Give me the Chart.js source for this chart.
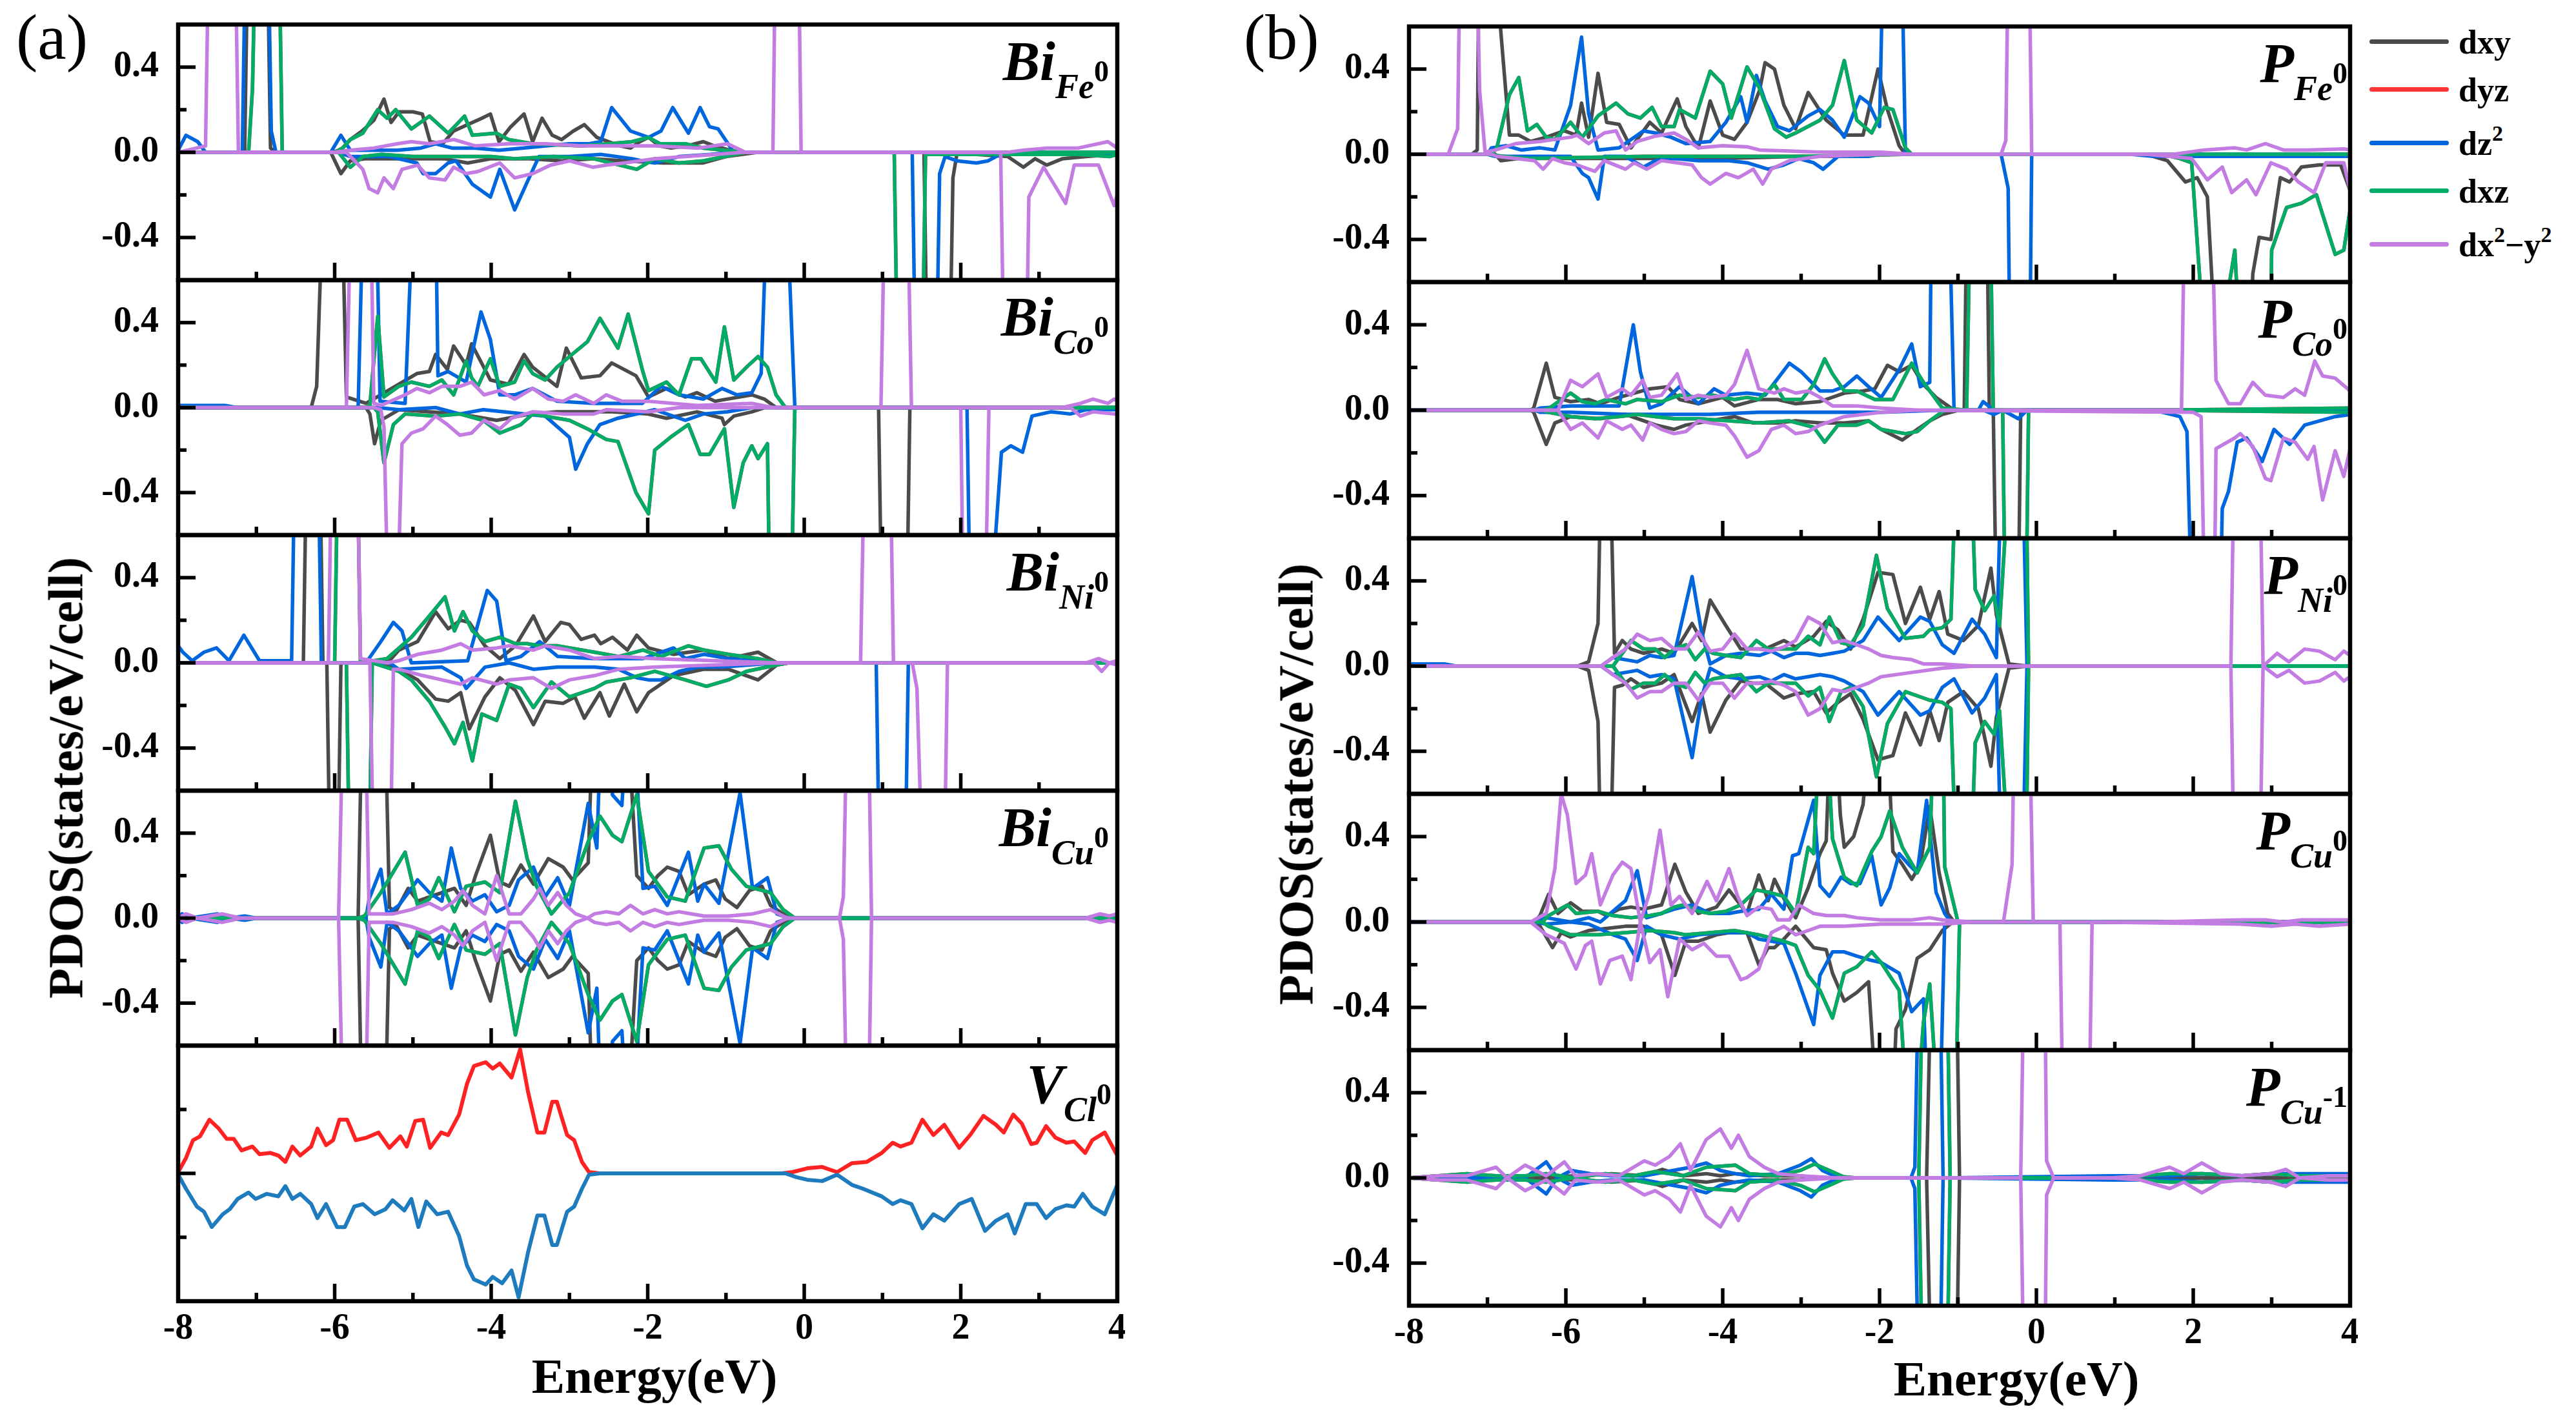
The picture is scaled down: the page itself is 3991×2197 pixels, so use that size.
<!DOCTYPE html>
<html><head><meta charset="utf-8">
<script src="https://cdn.jsdelivr.net/npm/chart.js"></script>
<style>
html,body{margin:0;padding:0;background:#fff;}
body{width:3991px;height:2197px;position:relative;overflow:hidden;font-family:'Liberation Serif','Times New Roman',serif;color:#000;}
canvas{position:absolute;}
.t{position:absolute;white-space:nowrap;color:#000;}
</style></head><body>
<script>
// ---------------- tick values / labels ----------------
const energyTicks = [-8,-6,-4,-2,0,2,4];
const energyTickLabels = ['-8','-6','-4','-2','0','2','4'];
const energyMinor = [-7,-5,-3,-1,1,3];
const pdosTicks = [-0.4,0,0.4];
const pdosTickLabels = ['-0.4','0.0','0.4'];
const pdosMinor = [-0.2,0.2];
const vclTicks = [0];
const vclMinor = [-0.5,0.5];
const orbitalNames = ['dxy','dyz','dz<span class="su">2</span>','dxz','dx<span class="su">2</span>\u2212y<span class="su">2</span>'];
const orbitalColors = ['#4b4b4b','#ff3535','#0066de','#00ad68','#c27ce2'];
const panelTitlesA = [['Bi','Fe','0'],['Bi','Co','0'],['Bi','Ni','0'],['Bi','Cu','0'],['V','Cl','0']];
const panelTitlesB = [['P','Fe','0'],['P','Co','0'],['P','Ni','0'],['P','Cu','0'],['P','Cu','-1']];

// ---------------- (a) Bi_Fe ----------------
const BiFe_dxy_up=[[-8,0],[-7.15,0],[-7.1,1.2],[-6.87,1.2],[-6.82,0.02],[-6.75,0],[-6.05,0],[-5.92,0.01],[-5.8,0.06],[-5.65,0.1],[-5.5,0.15],[-5.37,0.25],[-5.28,0.14],[-5.18,0.19],[-5.0,0.19],[-4.88,0.18],[-4.78,0.05],[-4.62,0.04],[-4.48,0.1],[-4.3,0.13],[-4.12,0.16],[-4.01,0.18],[-3.9,0.05],[-3.75,0.12],[-3.58,0.18],[-3.47,0.05],[-3.35,0.16],[-3.22,0.08],[-3.1,0.06],[-2.95,0.1],[-2.81,0.13],[-2.65,0.07],[-2.5,0.05],[-2.35,0.03],[-2.22,0.02],[-2.1,0.05],[-1.99,0.07],[-1.85,0.03],[-1.7,0.02],[-1.5,0.03],[-1.29,0.05],[-1.15,0.03],[-0.95,0.01],[-0.8,0],[4,0]];
const BiFe_dxy_dn=[[-8,0],[-6.05,0],[-5.92,-0.1],[-5.8,-0.04],[-5.6,-0.03],[-5.2,-0.03],[-4.6,-0.03],[-4.3,-0.05],[-4.0,-0.03],[-3.5,-0.03],[-3.1,-0.04],[-2.7,-0.03],[-2.3,-0.04],[-1.8,-0.05],[-1.3,-0.05],[-1.0,-0.02],[-0.6,0],[1.53,0],[1.58,-1.2],[1.85,-1.2],[1.9,-0.12],[1.95,-0.01],[2.2,-0.01],[2.6,-0.02],[2.8,-0.07],[2.95,-0.03],[3.1,-0.06],[3.3,-0.03],[3.6,-0.02],[4,-0.01]];
const BiFe_dz2_up=[[-8,0.01],[-7.9,0.08],[-7.75,0.05],[-7.65,0],[-7.18,0],[-7.13,1.2],[-6.86,1.2],[-6.81,0.1],[-6.75,0],[-6.05,0],[-5.92,0.08],[-5.8,0.01],[-5.5,0.01],[-5.2,0.01],[-4.9,0.02],[-4.71,0.04],[-4.5,0.02],[-4.2,0.02],[-3.9,0.01],[-3.6,0.02],[-3.3,0.03],[-3.0,0.04],[-2.75,0.04],[-2.6,0.05],[-2.46,0.21],[-2.22,0.1],[-1.99,0.07],[-1.83,0.1],[-1.68,0.21],[-1.48,0.09],[-1.33,0.21],[-1.21,0.12],[-1.1,0.11],[-0.9,0],[4,0]];
const BiFe_dz2_dn=[[-8,0],[-5.95,0],[-5.8,-0.02],[-5.3,-0.02],[-4.95,-0.05],[-4.87,-0.1],[-4.71,-0.1],[-4.55,-0.05],[-4.45,-0.04],[-4.24,-0.15],[-4.01,-0.21],[-3.89,-0.08],[-3.7,-0.27],[-3.54,-0.14],[-3.39,-0.02],[-3.0,-0.02],[-2.6,-0.01],[-2.2,-0.03],[-2.07,-0.04],[-1.91,-0.05],[-1.6,-0.02],[-1.2,-0.01],[-0.9,0],[1.38,0],[1.43,-1.2],[1.68,-1.2],[1.73,-0.1],[1.8,-0.02],[1.95,-0.04],[2.2,-0.05],[2.35,-0.04],[2.5,-0.01],[3.0,-0.01],[4,-0.01]];
const BiFe_dxz_up=[[-8,0],[-7.1,0],[-7.05,0.3],[-7.0,1.2],[-6.72,1.2],[-6.67,0],[-6.0,0],[-5.9,0.02],[-5.8,0.06],[-5.64,0.09],[-5.45,0.2],[-5.33,0.16],[-5.22,0.2],[-5.02,0.11],[-4.79,0.17],[-4.55,0.09],[-4.34,0.17],[-4.24,0.08],[-3.93,0.09],[-3.78,0.06],[-3.47,0.04],[-2.85,0.03],[-2.5,0.04],[-2.2,0.05],[-1.99,0.07],[-1.84,0.04],[-1.52,0.04],[-1.29,0.02],[-0.75,0],[4,0]];
const BiFe_dxz_dn=[[-8,0],[-5.95,0],[-5.8,-0.07],[-5.64,-0.02],[-5.4,-0.01],[-5.0,-0.02],[-4.5,-0.02],[-4.0,-0.02],[-3.7,-0.03],[-3.2,-0.02],[-2.69,-0.03],[-2.14,-0.08],[-1.91,-0.03],[-1.6,-0.05],[-1.29,-0.04],[-0.75,0],[1.15,0],[1.2,-1.2],[1.5,-1.2],[1.55,-0.01],[2.5,-0.01],[3.5,-0.01],[3.9,-0.02],[4,-0.01]];
const BiFe_dx2y2_up=[[-8,0],[-7.65,0.03],[-7.6,1.2],[-7.28,1.2],[-7.23,0],[-6.0,0],[-5.8,0.01],[-5.5,0.02],[-5.2,0.04],[-5.02,0.05],[-4.79,0.04],[-4.48,0.06],[-4.2,0.03],[-3.78,0.04],[-3.3,0.04],[-2.85,0.03],[-2.5,0.03],[-1.9,0.03],[-1.35,0.02],[-0.98,0.04],[-0.75,0],[-0.4,0],[-0.36,1.2],[-0.08,1.2],[-0.04,0],[2.6,0],[2.8,0.01],[3.1,0.02],[3.5,0.02],[3.88,0.05],[4,0.02]];
const BiFe_dx2y2_dn=[[-8,0],[-5.85,0],[-5.64,-0.08],[-5.56,-0.17],[-5.45,-0.19],[-5.37,-0.12],[-5.25,-0.17],[-5.14,-0.08],[-4.94,-0.06],[-4.79,-0.12],[-4.59,-0.13],[-4.48,-0.07],[-4.32,-0.1],[-4.17,-0.09],[-3.89,-0.05],[-3.7,-0.12],[-3.47,-0.1],[-3.24,-0.06],[-3.0,-0.04],[-2.7,-0.07],[-2.53,-0.06],[-2.3,-0.05],[-1.91,-0.03],[-1.52,-0.02],[-1.13,-0.01],[-0.8,0],[2.51,0],[2.56,-1.2],[2.83,-1.2],[2.87,-0.21],[3.06,-0.07],[3.34,-0.24],[3.45,-0.06],[3.76,-0.06],[3.96,-0.25],[4,-0.2]];

// ---------------- (a) Bi_Co ----------------
const BiCo_dxy_up=[[-8,0],[-6.3,0],[-6.23,0.1],[-6.13,1.2],[-5.92,1.2],[-5.85,0.05],[-5.6,0.02],[-5.41,0.06],[-4.95,0.16],[-4.79,0.17],[-4.71,0.25],[-4.56,0.18],[-4.48,0.29],[-4.32,0.2],[-4.25,0.3],[-4.01,0.13],[-3.78,0.11],[-3.58,0.25],[-3.47,0.19],[-3.16,0.1],[-3.04,0.28],[-2.85,0.14],[-2.61,0.15],[-2.46,0.21],[-2.15,0.15],[-1.99,0.05],[-1.76,0.09],[-1.52,0.05],[-1.37,0.07],[-1.14,0.03],[-0.67,0.06],[-0.51,0.04],[-0.36,0],[4,0]];
const BiCo_dxy_dn=[[-8,0],[-5.6,0],[-5.55,-0.03],[-5.49,-0.17],[-5.41,-0.06],[-5.18,-0.01],[-4.8,-0.02],[-4.4,-0.03],[-3.93,-0.06],[-3.5,-0.03],[-3.16,-0.02],[-2.46,-0.02],[-2.0,-0.03],[-1.76,-0.05],[-1.37,-0.02],[-1.05,-0.05],[-1.02,-0.08],[-0.9,-0.04],[-0.67,-0.02],[-0.5,0],[0.95,0],[1.0,-1.2],[1.3,-1.2],[1.35,0],[4,0]];
const BiCo_dz2_up=[[-8,0.01],[-7.6,0.01],[-7.4,0.01],[-7.25,0],[-5.7,0],[-5.62,1.2],[-5.48,1.2],[-5.42,0.03],[-5.1,0.02],[-4.97,1.2],[-4.72,1.2],[-4.68,0.15],[-4.55,0.17],[-4.32,0.12],[-4.13,0.45],[-4.01,0.32],[-3.89,0.06],[-3.7,0.06],[-3.47,0.09],[-3.16,0.03],[-2.69,0.02],[-2.07,0.02],[-1.83,0.1],[-1.6,0.06],[-1.44,0.05],[-1.29,0.04],[-1.05,0.09],[-0.86,0.06],[-0.67,0.07],[-0.55,0.16],[-0.45,1.2],[-0.25,1.2],[-0.12,0],[4,0]];
const BiCo_dz2_dn=[[-8,0],[-5.45,0],[-5.18,-0.01],[-4.71,0],[-4.4,-0.03],[-4.1,-0.01],[-3.31,-0.04],[-3.0,-0.14],[-2.92,-0.29],[-2.77,-0.17],[-2.61,-0.08],[-2.38,-0.05],[-1.91,-0.01],[-1.52,-0.06],[-1.29,-0.03],[-0.98,-0.02],[-0.67,0],[2.08,0],[2.13,-1.2],[2.33,-1.2],[2.52,-0.21],[2.64,-0.18],[2.79,-0.21],[2.91,-0.04],[3.15,-0.02],[3.4,-0.03],[3.6,-0.01],[4,-0.01]];
const BiCo_dxz_up=[[-8,0],[-5.6,0],[-5.55,0.01],[-5.45,0.43],[-5.37,0.05],[-5.18,0.1],[-5.02,0.12],[-4.79,0.1],[-4.63,0.13],[-4.48,0.06],[-4.32,0.22],[-4.25,0.14],[-4.17,0.1],[-4.01,0.23],[-3.89,0.1],[-3.7,0.12],[-3.58,0.22],[-3.47,0.16],[-3.31,0.13],[-3.16,0.19],[-3.0,0.24],[-2.77,0.31],[-2.61,0.42],[-2.38,0.28],[-2.25,0.44],[-2.07,0.18],[-1.99,0.08],[-1.76,0.12],[-1.6,0.06],[-1.44,0.23],[-1.32,0.23],[-1.13,0.12],[-1.02,0.38],[-0.9,0.13],[-0.71,0.2],[-0.59,0.24],[-0.47,0.19],[-0.36,0.06],[-0.24,0],[4,0]];
const BiCo_dxz_dn=[[-8,0],[-5.5,0],[-5.45,-0.02],[-5.37,-0.26],[-5.25,-0.08],[-5.1,-0.03],[-4.71,-0.04],[-4.4,-0.03],[-4.1,-0.06],[-3.89,-0.12],[-3.62,-0.08],[-3.47,-0.03],[-3.0,-0.06],[-2.77,-0.1],[-2.53,-0.15],[-2.38,-0.16],[-2.15,-0.4],[-1.99,-0.5],[-1.91,-0.2],[-1.71,-0.14],[-1.48,-0.08],[-1.33,-0.22],[-1.21,-0.22],[-1.02,-0.1],[-0.9,-0.47],[-0.78,-0.26],[-0.67,-0.18],[-0.59,-0.24],[-0.47,-0.17],[-0.43,-1.2],[-0.18,-1.2],[-0.12,0],[4,0]];
const BiCo_dx2y2_up=[[-8,0],[-5.85,0],[-5.78,1.2],[-5.55,1.2],[-5.5,0.02],[-5.41,0.01],[-5.1,0.06],[-4.95,0.09],[-4.79,0.07],[-4.63,0.1],[-4.4,0.1],[-4.25,0.12],[-4.09,0.06],[-3.89,0.08],[-3.7,0.04],[-3.47,0.09],[-3.27,0.04],[-3.08,0.03],[-2.92,0.06],[-2.69,0.02],[-2.53,0.06],[-2.33,0.03],[-2.0,0.03],[-1.68,0.02],[-1.37,0.01],[-0.67,0.02],[-0.4,0],[0.98,0],[1.04,1.2],[1.31,1.2],[1.37,0],[3.3,0],[3.53,0.02],[3.69,0.04],[3.88,0.02],[3.96,0.04],[4,0.03]];
const BiCo_dx2y2_dn=[[-8,0],[-5.5,0],[-5.41,-0.01],[-5.37,-0.09],[-5.3,-1.2],[-5.22,-1.2],[-5.14,-0.17],[-5.02,-0.12],[-4.87,-0.1],[-4.71,-0.04],[-4.56,-0.08],[-4.4,-0.13],[-4.25,-0.12],[-4.09,-0.06],[-3.89,-0.1],[-3.74,-0.05],[-3.47,-0.02],[-3.08,-0.03],[-2.69,-0.03],[-2.53,-0.01],[-1.99,-0.02],[-1.6,0],[2.0,0],[2.04,-1.2],[2.3,-1.2],[2.36,0],[3.4,0],[3.53,-0.04],[3.69,-0.02],[3.96,-0.03],[4,-0.03]];

// ---------------- (a) Bi_Ni ----------------
const BiNi_dxy_up=[[-8,0],[-6.4,0],[-6.35,1.2],[-6.2,1.2],[-6.15,0],[-5.5,0],[-5.3,0.01],[-5.18,0.06],[-4.94,0.1],[-4.71,0.24],[-4.55,0.16],[-4.39,0.2],[-4.28,0.19],[-4.08,0.08],[-3.89,0.02],[-3.69,0.08],[-3.46,0.22],[-3.31,0.1],[-3.11,0.19],[-3.0,0.18],[-2.85,0.11],[-2.68,0.13],[-2.6,0.09],[-2.45,0.12],[-2.26,0.06],[-2.14,0.13],[-1.99,0.07],[-1.67,0.04],[-1.28,0.06],[-0.97,0.02],[-0.59,0.05],[-0.35,0],[4,0]];
const BiNi_dxy_dn=[[-8,0],[-6.1,0],[-6.05,-1.2],[-5.97,-1.2],[-5.92,0],[-5.5,0],[-5.18,-0.03],[-4.94,-0.08],[-4.71,-0.17],[-4.55,-0.18],[-4.39,-0.14],[-4.28,-0.31],[-4.08,-0.16],[-3.89,-0.07],[-3.69,-0.13],[-3.46,-0.29],[-3.31,-0.18],[-3.08,-0.19],[-2.93,-0.16],[-2.81,-0.26],[-2.61,-0.14],[-2.49,-0.25],[-2.3,-0.1],[-2.14,-0.23],[-1.99,-0.14],[-1.67,-0.06],[-1.28,-0.03],[-0.97,-0.03],[-0.59,-0.08],[-0.35,-0.01],[-0.2,0],[4,0]];
const BiNi_dz2_up=[[-8,0.08],[-7.94,0.05],[-7.82,0.01],[-7.67,0.05],[-7.51,0.07],[-7.35,0.01],[-7.16,0.13],[-6.96,0.01],[-6.55,0.01],[-6.5,1.2],[-6.22,1.2],[-6.17,0],[-5.6,0],[-5.41,0.1],[-5.25,0.19],[-5.14,0.15],[-5.02,0],[-4.3,0.01],[-4.05,0.34],[-3.93,0.29],[-3.81,0.01],[-3.62,0.03],[-3.38,0.1],[-3.15,0.03],[-2.68,0.02],[-2.06,0.02],[-1.67,0.07],[-1.52,0.02],[-1.28,0.04],[-0.97,0.02],[-0.35,0],[4,0]];
const BiNi_dz2_dn=[[-8,0],[-5.3,0],[-5.18,-0.03],[-4.63,-0.02],[-4.39,-0.07],[-4.32,-0.12],[-4.08,-0.02],[-3.77,0],[-3.46,-0.03],[-3.15,-0.02],[-2.68,-0.02],[-2.37,-0.03],[-2.14,-0.07],[-1.99,-0.08],[-1.83,-0.08],[-1.6,-0.04],[-1.36,-0.02],[-1.05,-0.02],[-0.35,0],[0.92,0],[0.97,-1.2],[1.28,-1.2],[1.33,0],[4,0]];
const BiNi_dxz_up=[[-8,0],[-6.0,0],[-5.95,1.2],[-5.72,1.2],[-5.67,0],[-5.33,0.02],[-5.02,0.12],[-4.79,0.22],[-4.59,0.31],[-4.47,0.15],[-4.36,0.24],[-4.24,0.15],[-4.08,0.1],[-3.89,0.12],[-3.69,0.09],[-3.54,0.09],[-3.38,0.08],[-3.15,0.08],[-2.68,0.05],[-2.37,0.03],[-2.06,0.06],[-1.83,0.03],[-1.48,0.08],[-1.28,0.06],[-0.97,0.04],[-0.59,0.02],[-0.35,0],[4,0]];
const BiNi_dxz_dn=[[-8,0],[-5.85,0],[-5.8,-1.2],[-5.57,-1.2],[-5.52,0],[-5.18,-0.04],[-5.02,-0.08],[-4.79,-0.18],[-4.59,-0.3],[-4.47,-0.38],[-4.36,-0.28],[-4.24,-0.46],[-4.12,-0.24],[-3.93,-0.27],[-3.77,-0.1],[-3.62,-0.12],[-3.46,-0.21],[-3.23,-0.09],[-3.0,-0.16],[-2.68,-0.12],[-2.53,-0.09],[-2.22,-0.07],[-1.91,-0.04],[-1.52,-0.08],[-1.25,-0.11],[-0.97,-0.08],[-0.74,-0.04],[-0.35,-0.01],[-0.2,0],[4,0]];
const BiNi_dx2y2_up=[[-8,0],[-6.08,0],[-6.03,1.2],[-5.72,1.2],[-5.67,0.02],[-5.33,0],[-5.18,0.01],[-4.94,0.04],[-4.63,0.06],[-4.39,0.09],[-4.24,0.06],[-3.93,0.07],[-3.77,0.08],[-3.46,0.06],[-3.31,0.08],[-3.0,0.06],[-2.68,0.02],[-2.37,0.03],[-1.91,0.02],[-1.13,0.01],[-0.35,0],[0.72,0],[0.78,1.2],[1.09,1.2],[1.14,0],[3.6,0],[3.76,0.02],[3.9,0],[4,0.01]];
const BiNi_dx2y2_dn=[[-8,0],[-5.55,0],[-5.49,-1.2],[-5.3,-1.2],[-5.25,-0.03],[-5.18,-0.03],[-4.87,-0.06],[-4.63,-0.08],[-4.39,-0.1],[-4.24,-0.07],[-3.93,-0.1],[-3.77,-0.08],[-3.46,-0.07],[-3.23,-0.12],[-3.0,-0.08],[-2.68,-0.06],[-2.37,-0.03],[-1.91,-0.02],[-1.13,-0.01],[-0.35,0],[1.38,0],[1.44,-0.12],[1.53,-1.2],[1.78,-1.2],[1.83,0],[3.7,0],[3.8,-0.04],[3.9,0],[4,-0.01]];

// ---------------- (a) Bi_Cu ----------------
const BiCu_dxy_up=[[-8,0],[-5.7,0],[-5.64,1.2],[-5.37,1.2],[-5.3,0.05],[-5.22,0.03],[-5.06,0.14],[-4.94,0.08],[-4.71,0.11],[-4.47,0.14],[-4.32,0.06],[-4.2,0.2],[-4.01,0.39],[-3.89,0.17],[-3.77,0.15],[-3.62,0.25],[-3.46,0.16],[-3.27,0.28],[-3.08,0.24],[-2.96,0.18],[-2.76,0.26],[-2.68,1.2],[-2.3,1.2],[-2.14,0.2],[-1.99,0.14],[-1.87,0.2],[-1.75,0.24],[-1.6,0.22],[-1.48,0.11],[-1.28,0.16],[-1.13,0.18],[-1.01,0.09],[-0.86,0.05],[-0.7,0.13],[-0.54,0.15],[-0.43,0.06],[-0.27,0.02],[-0.12,0],[4,0]];
const BiCu_dxy_dn=[[-8,0],[-5.7,0],[-5.64,-1.2],[-5.37,-1.2],[-5.3,-0.05],[-5.22,-0.03],[-5.06,-0.14],[-4.94,-0.08],[-4.71,-0.11],[-4.47,-0.14],[-4.32,-0.06],[-4.2,-0.2],[-4.01,-0.39],[-3.89,-0.17],[-3.77,-0.15],[-3.62,-0.25],[-3.46,-0.16],[-3.27,-0.28],[-3.08,-0.24],[-2.96,-0.18],[-2.76,-0.26],[-2.68,-1.2],[-2.3,-1.2],[-2.14,-0.2],[-1.99,-0.14],[-1.87,-0.2],[-1.75,-0.24],[-1.6,-0.22],[-1.48,-0.11],[-1.28,-0.16],[-1.13,-0.18],[-1.01,-0.09],[-0.86,-0.05],[-0.7,-0.13],[-0.54,-0.15],[-0.43,-0.06],[-0.27,-0.02],[-0.12,0],[4,0]];
const BiCu_dz2_up=[[-8,0],[-7.95,0.02],[-7.85,0],[-7.5,0.02],[-7.35,0],[-7.15,0.01],[-7.0,0],[-5.6,0],[-5.56,0.09],[-5.41,0.23],[-5.33,0.02],[-5.18,0.06],[-4.94,0.18],[-4.79,0.12],[-4.63,0.08],[-4.51,0.33],[-4.39,0.14],[-4.24,0.08],[-4.08,0.11],[-3.93,0.03],[-3.77,0.06],[-3.65,0.18],[-3.46,0.24],[-3.31,0.1],[-3.15,0.19],[-3.0,0.06],[-2.76,0.54],[-2.65,0.33],[-2.57,1.2],[-2.45,0.58],[-2.33,0.53],[-2.22,1.2],[-2.06,0.14],[-1.91,0.15],[-1.75,0.06],[-1.48,0.31],[-1.36,0.08],[-1.28,0.16],[-1.09,0.07],[-0.82,0.59],[-0.66,0.14],[-0.47,0.19],[-0.35,0.02],[-0.2,0],[4,0]];
const BiCu_dz2_dn=[[-8,0],[-7.95,-0.02],[-7.85,0],[-7.5,-0.02],[-7.35,0],[-7.15,-0.01],[-7.0,0],[-5.6,0],[-5.56,-0.09],[-5.41,-0.23],[-5.33,-0.02],[-5.18,-0.06],[-4.94,-0.18],[-4.79,-0.12],[-4.63,-0.08],[-4.51,-0.33],[-4.39,-0.14],[-4.24,-0.08],[-4.08,-0.11],[-3.93,-0.03],[-3.77,-0.06],[-3.65,-0.18],[-3.46,-0.24],[-3.31,-0.1],[-3.15,-0.19],[-3.0,-0.06],[-2.76,-0.54],[-2.65,-0.33],[-2.57,-1.2],[-2.45,-0.58],[-2.33,-0.53],[-2.22,-1.2],[-2.06,-0.14],[-1.91,-0.15],[-1.75,-0.06],[-1.48,-0.31],[-1.36,-0.08],[-1.28,-0.16],[-1.09,-0.07],[-0.82,-0.59],[-0.66,-0.14],[-0.47,-0.19],[-0.35,-0.02],[-0.2,0],[4,0]];
const BiCu_dxz_up=[[-8,0],[-5.7,0],[-5.62,0.01],[-5.41,0.12],[-5.1,0.31],[-4.94,0.06],[-4.79,0.09],[-4.67,0.19],[-4.47,0.03],[-4.32,0.15],[-4.08,0.17],[-3.89,0.12],[-3.69,0.55],[-3.54,0.28],[-3.42,0.15],[-3.23,0.02],[-3.0,0.12],[-2.76,0.36],[-2.61,0.48],[-2.45,0.39],[-2.33,0.36],[-2.14,0.58],[-1.99,0.22],[-1.75,0.1],[-1.52,0.08],[-1.28,0.33],[-1.09,0.34],[-0.93,0.23],[-0.74,0.15],[-0.43,0.12],[-0.27,0.04],[-0.12,0],[4,0]];
const BiCu_dxz_dn=[[-8,0],[-5.7,0],[-5.62,-0.01],[-5.41,-0.12],[-5.1,-0.31],[-4.94,-0.06],[-4.79,-0.09],[-4.67,-0.19],[-4.47,-0.03],[-4.32,-0.15],[-4.08,-0.17],[-3.89,-0.12],[-3.69,-0.55],[-3.54,-0.28],[-3.42,-0.15],[-3.23,-0.02],[-3.0,-0.12],[-2.76,-0.36],[-2.61,-0.48],[-2.45,-0.39],[-2.33,-0.36],[-2.14,-0.58],[-1.99,-0.22],[-1.75,-0.1],[-1.52,-0.08],[-1.28,-0.33],[-1.09,-0.34],[-0.93,-0.23],[-0.74,-0.15],[-0.43,-0.12],[-0.27,-0.04],[-0.12,0],[4,0]];
const BiCu_dx2y2_up=[[-8,0],[-7.9,0.02],[-7.75,0],[-7.44,0.02],[-7.2,0],[-5.95,0],[-5.88,1.2],[-5.62,1.2],[-5.56,0.02],[-5.25,0.02],[-5.02,0.04],[-4.79,0.07],[-4.63,0.04],[-4.47,0.08],[-4.36,0.13],[-4.24,0.06],[-4.08,0.02],[-3.93,0.2],[-3.77,0.02],[-3.62,0.02],[-3.46,0.09],[-3.38,0.14],[-3.27,0.06],[-3.15,0.12],[-3.04,0.06],[-2.92,0.02],[-2.77,0],[-2.68,0.02],[-2.53,0.03],[-2.37,0.02],[-2.22,0.06],[-2.06,0.02],[-1.91,0.04],[-1.75,0.02],[-1.6,0.03],[-1.44,0.02],[-1.28,0.01],[-0.97,0.01],[-0.66,0.02],[-0.43,0.04],[-0.27,0.01],[-0.2,0],[0.45,0],[0.5,0.1],[0.56,1.2],[0.81,1.2],[0.86,0],[3.6,0],[3.78,0.02],[3.9,0.01],[4,0.02]];
const BiCu_dx2y2_dn=[[-8,0],[-7.9,-0.02],[-7.75,0],[-7.44,-0.02],[-7.2,0],[-5.95,0],[-5.88,-1.2],[-5.62,-1.2],[-5.56,-0.02],[-5.25,-0.02],[-5.02,-0.04],[-4.79,-0.07],[-4.63,-0.04],[-4.47,-0.08],[-4.36,-0.13],[-4.24,-0.06],[-4.08,-0.02],[-3.93,-0.2],[-3.77,-0.02],[-3.62,-0.02],[-3.46,-0.09],[-3.38,-0.14],[-3.27,-0.06],[-3.15,-0.12],[-3.04,-0.06],[-2.92,-0.02],[-2.77,0],[-2.68,-0.02],[-2.53,-0.03],[-2.37,-0.02],[-2.22,-0.06],[-2.06,-0.02],[-1.91,-0.04],[-1.75,-0.02],[-1.6,-0.03],[-1.44,-0.02],[-1.28,-0.01],[-0.97,-0.01],[-0.66,-0.02],[-0.43,-0.04],[-0.27,-0.01],[-0.2,0],[0.45,0],[0.5,-0.1],[0.56,-1.2],[0.81,-1.2],[0.86,0],[3.6,0],[3.78,-0.02],[3.9,-0.01],[4,-0.02]];

// ---------------- (a) V_Cl ----------------
const VCl_up=[[-8,0.01],[-7.9,0.12],[-7.81,0.26],[-7.72,0.29],[-7.6,0.42],[-7.48,0.35],[-7.38,0.27],[-7.29,0.27],[-7.19,0.18],[-7.05,0.21],[-6.96,0.15],[-6.82,0.16],[-6.72,0.14],[-6.63,0.09],[-6.54,0.21],[-6.44,0.14],[-6.3,0.21],[-6.22,0.35],[-6.11,0.22],[-6.02,0.26],[-5.94,0.42],[-5.84,0.42],[-5.73,0.26],[-5.59,0.28],[-5.44,0.32],[-5.3,0.2],[-5.16,0.29],[-5.08,0.21],[-4.97,0.41],[-4.87,0.42],[-4.78,0.2],[-4.64,0.32],[-4.55,0.3],[-4.41,0.46],[-4.31,0.7],[-4.22,0.84],[-4.07,0.87],[-3.98,0.82],[-3.89,0.86],[-3.74,0.75],[-3.63,0.97],[-3.53,0.64],[-3.41,0.32],[-3.32,0.32],[-3.22,0.56],[-3.16,0.56],[-3.03,0.3],[-2.94,0.26],[-2.84,0.09],[-2.75,0.01],[-2.61,0],[-0.29,0],[-0.15,0.01],[0.04,0.04],[0.23,0.05],[0.42,0.01],[0.61,0.08],[0.8,0.09],[0.99,0.16],[1.13,0.24],[1.23,0.21],[1.37,0.24],[1.51,0.42],[1.65,0.3],[1.79,0.38],[1.98,0.2],[2.12,0.3],[2.29,0.45],[2.45,0.38],[2.55,0.32],[2.67,0.46],[2.78,0.39],[2.9,0.23],[2.97,0.24],[3.09,0.37],[3.21,0.28],[3.35,0.24],[3.45,0.25],[3.59,0.16],[3.68,0.26],[3.84,0.32],[4,0.14]];
const VCl_dn=[[-8,-0.01],[-7.9,-0.12],[-7.76,-0.26],[-7.67,-0.3],[-7.57,-0.42],[-7.43,-0.32],[-7.34,-0.28],[-7.24,-0.2],[-7.1,-0.15],[-7.01,-0.2],[-6.87,-0.16],[-6.72,-0.18],[-6.63,-0.1],[-6.54,-0.2],[-6.44,-0.16],[-6.3,-0.24],[-6.22,-0.35],[-6.11,-0.24],[-5.97,-0.42],[-5.87,-0.42],[-5.75,-0.26],[-5.64,-0.24],[-5.49,-0.32],[-5.35,-0.28],[-5.26,-0.21],[-5.11,-0.29],[-5.02,-0.2],[-4.93,-0.42],[-4.83,-0.22],[-4.69,-0.32],[-4.55,-0.3],[-4.41,-0.49],[-4.31,-0.72],[-4.22,-0.83],[-4.07,-0.87],[-3.98,-0.81],[-3.86,-0.86],[-3.74,-0.76],[-3.65,-0.97],[-3.53,-0.62],[-3.41,-0.33],[-3.32,-0.33],[-3.22,-0.56],[-3.16,-0.56],[-3.03,-0.3],[-2.94,-0.26],[-2.84,-0.12],[-2.75,-0.01],[-2.61,0],[-0.24,0],[-0.1,-0.03],[0.04,-0.05],[0.23,-0.06],[0.42,-0.01],[0.61,-0.09],[0.75,-0.12],[0.99,-0.18],[1.13,-0.24],[1.23,-0.21],[1.37,-0.24],[1.51,-0.43],[1.65,-0.32],[1.79,-0.37],[1.98,-0.24],[2.14,-0.2],[2.31,-0.45],[2.45,-0.37],[2.6,-0.32],[2.69,-0.47],[2.83,-0.24],[2.97,-0.24],[3.09,-0.35],[3.21,-0.28],[3.35,-0.25],[3.45,-0.26],[3.56,-0.16],[3.68,-0.26],[3.84,-0.32],[4,-0.09]];

// ---------------- (b) P_Fe ----------------
const PFe_dxy_up=[[-8,0],[-7.2,0],[-7.13,0.02],[-7.1,1.2],[-6.97,1.2],[-6.72,0.09],[-6.6,0.09],[-6.45,0.06],[-6.25,0.08],[-6.02,0.11],[-5.87,0.09],[-5.8,0.24],[-5.71,0.08],[-5.59,0.38],[-5.48,0.15],[-5.32,0.14],[-5.17,0.03],[-4.93,0.15],[-4.78,0.1],[-4.58,0.26],[-4.47,0.13],[-4.31,0.03],[-4.16,0.25],[-4.0,0.09],[-3.85,0.07],[-3.69,0.15],[-3.53,0.3],[-3.46,0.43],[-3.34,0.4],[-3.22,0.23],[-3.07,0.12],[-2.91,0.29],[-2.68,0.16],[-2.45,0.09],[-2.21,0.09],[-2.02,0.4],[-1.9,0.21],[-1.75,0.04],[-1.67,0],[4,0]];
const PFe_dxy_dn=[[-8,0],[-6.9,0],[-6.83,-0.03],[-6.6,-0.02],[-6.0,-0.02],[-5.0,-0.02],[-4.0,-0.02],[-3.0,-0.01],[-2.5,-0.01],[-2.0,0],[1.4,0],[1.67,-0.03],[1.9,-0.13],[2.05,-0.11],[2.18,-0.2],[2.33,-1.2],[2.68,-1.2],[2.76,-0.56],[2.84,-0.39],[2.99,-0.4],[3.11,-0.11],[3.23,-0.13],[3.38,-0.06],[3.61,-0.05],[3.88,-0.05],[4,-0.17]];
const PFe_dz2_up=[[-8,0],[-7.0,0],[-6.95,0.03],[-6.76,0.04],[-6.57,0.02],[-6.33,0.03],[-6.14,0.02],[-5.94,0.23],[-5.8,0.55],[-5.71,0.19],[-5.59,0.02],[-5.32,0.03],[-5.01,0.11],[-4.86,0.1],[-4.66,0.08],[-4.47,0.05],[-4.16,0.06],[-3.96,0.15],[-3.77,0.27],[-3.69,0.15],[-3.57,0.37],[-3.46,0.25],[-3.3,0.13],[-3.15,0.11],[-2.91,0.18],[-2.76,0.21],[-2.6,0.16],[-2.45,0.08],[-2.25,0.27],[-2.14,0.24],[-2.0,0.13],[-1.94,1.2],[-1.73,1.2],[-1.67,0],[4,0]];
const PFe_dz2_dn=[[-8,0],[-7.0,0],[-6.9,-0.01],[-6.2,-0.01],[-5.94,-0.01],[-5.79,-0.09],[-5.71,-0.11],[-5.59,-0.21],[-5.51,-0.01],[-5.24,-0.01],[-5.01,-0.06],[-4.86,-0.03],[-4.62,-0.02],[-4.31,-0.03],[-3.92,-0.03],[-3.69,-0.04],[-3.42,-0.07],[-3.22,-0.05],[-3.03,-0.02],[-2.84,-0.04],[-2.72,-0.07],[-2.53,-0.01],[-2.14,-0.01],[-1.98,0],[-0.45,0],[-0.36,-0.16],[-0.33,-1.2],[-0.09,-1.2],[-0.06,0],[1.2,0],[1.5,-0.01],[4,-0.01]];
const PFe_dxz_up=[[-8,0],[-6.95,0],[-6.88,0.03],[-6.72,0.28],[-6.6,0.36],[-6.49,0.11],[-6.37,0.14],[-6.25,0.08],[-6.14,0.07],[-5.94,0.15],[-5.79,0.08],[-5.59,0.18],[-5.36,0.24],[-5.21,0.19],[-5.05,0.17],[-4.9,0.22],[-4.78,0.13],[-4.62,0.13],[-4.55,0.21],[-4.35,0.17],[-4.16,0.39],[-4.0,0.33],[-3.89,0.17],[-3.69,0.41],[-3.53,0.31],[-3.34,0.12],[-3.19,0.08],[-3.07,0.1],[-2.76,0.16],[-2.6,0.23],[-2.45,0.44],[-2.29,0.16],[-2.1,0.1],[-1.94,0.22],[-1.83,0.21],[-1.67,0.03],[-1.59,0],[4,0]];
const PFe_dxz_dn=[[-8,0],[-7.0,0],[-6.8,-0.01],[-6.49,-0.02],[-5.0,-0.01],[-4.0,-0.01],[-3.0,-0.01],[-1.59,0],[1.6,0],[1.83,-0.02],[1.98,-0.04],[2.2,-1.2],[2.53,-0.45],[2.64,-1.2],[2.97,-1.2],[3.0,-0.45],[3.19,-0.25],[3.38,-0.23],[3.57,-0.19],[3.81,-0.47],[3.92,-0.45],[4,-0.26]];
const PFe_dx2y2_up=[[-8,0],[-7.5,0],[-7.38,0.12],[-7.34,1.2],[-7.15,1.2],[-7.1,0.3],[-7.03,0.01],[-6.9,0.02],[-6.64,0.05],[-6.33,0.06],[-6.14,0.07],[-5.94,0.08],[-5.86,0.09],[-5.71,0.05],[-5.51,0.1],[-5.36,0.11],[-5.24,0.02],[-5.09,0.06],[-4.86,0.085],[-4.62,0.1],[-4.47,0.07],[-4.31,0.03],[-4.0,0.04],[-3.69,0.035],[-3.53,0.02],[-3.15,0.015],[-2.76,0.01],[-1.98,0.01],[-1.6,0],[-0.45,0],[-0.39,0.065],[-0.35,1.2],[-0.1,1.2],[-0.06,0],[1.75,0],[2.14,0.02],[2.53,0.03],[2.68,0.02],[2.92,0.05],[3.15,0.02],[3.46,0.02],[3.92,0.025],[4,0.02]];
const PFe_dx2y2_dn=[[-8,0],[-6.95,0],[-6.88,-0.01],[-6.64,-0.02],[-6.4,-0.03],[-6.29,-0.07],[-6.17,-0.02],[-6.02,-0.04],[-5.86,-0.05],[-5.63,-0.08],[-5.51,-0.03],[-5.24,-0.07],[-5.13,-0.04],[-4.97,-0.07],[-4.78,-0.03],[-4.58,-0.04],[-4.39,-0.05],[-4.27,-0.11],[-4.16,-0.14],[-3.96,-0.09],[-3.8,-0.11],[-3.61,-0.07],[-3.49,-0.14],[-3.38,-0.07],[-3.15,-0.03],[-2.76,-0.01],[-1.98,0],[1.4,0],[1.98,-0.02],[2.18,-0.12],[2.37,-0.06],[2.49,-0.18],[2.68,-0.12],[2.8,-0.19],[2.99,-0.04],[3.19,-0.07],[3.34,-0.13],[3.54,-0.18],[3.69,-0.04],[3.92,-0.04],[4,-0.17]];

// ---------------- (b) P_Co ----------------
const PCo_dxy_up=[[-8,0],[-6.45,0],[-6.41,0.01],[-6.25,0.22],[-6.14,0.06],[-5.94,0.04],[-5.71,0.05],[-5.56,0.03],[-5.32,0.06],[-4.93,0.1],[-4.7,0.11],[-4.55,0.05],[-4.31,0.03],[-4.0,0.06],[-3.85,0.02],[-3.54,0.05],[-3.3,0.05],[-3.07,0.03],[-2.76,0.04],[-2.45,0.08],[-2.21,0.09],[-2.06,0.1],[-1.9,0.21],[-1.75,0.18],[-1.59,0.21],[-1.44,0.12],[-1.28,0.06],[-1.05,0],[-0.92,0],[-0.88,1.2],[-0.64,1.2],[-0.6,0],[4,0]];
const PCo_dxy_dn=[[-8,0],[-6.45,0],[-6.41,-0.01],[-6.25,-0.16],[-6.14,-0.06],[-5.94,-0.03],[-5.56,-0.04],[-5.24,-0.02],[-4.85,-0.07],[-4.62,-0.09],[-4.47,-0.07],[-4.16,-0.05],[-3.85,-0.03],[-3.61,-0.06],[-3.3,-0.06],[-3.07,-0.05],[-2.76,-0.06],[-2.45,-0.06],[-2.14,-0.05],[-1.98,-0.09],[-1.71,-0.14],[-1.52,-0.09],[-1.36,-0.05],[-1.2,-0.02],[-0.99,0],[-0.55,0],[-0.5,-1.2],[-0.24,-1.2],[-0.2,0],[4,0]];
const PCo_dz2_up=[[-8,0],[-6.4,0],[-6.33,0.01],[-5.94,0.02],[-5.56,0.02],[-5.32,0.02],[-5.14,0.4],[-5.05,0.18],[-4.93,0.01],[-4.78,0.03],[-4.55,0.11],[-4.31,0.03],[-4.11,0.1],[-3.96,0.07],[-3.69,0.08],[-3.46,0.07],[-3.15,0.22],[-3.0,0.18],[-2.76,0.09],[-2.6,0.09],[-2.45,0.11],[-2.29,0.16],[-2.14,0.11],[-1.98,0.06],[-1.75,0.19],[-1.59,0.31],[-1.48,0.11],[-1.36,0.13],[-1.33,1.2],[-1.13,1.2],[-1.05,0],[-0.74,0],[-0.68,0.04],[-0.54,0],[4,0]];
const PCo_dz2_dn=[[-8,0],[-6.4,0],[-6.33,-0.01],[-5.94,-0.01],[-5.24,-0.02],[-4.93,-0.02],[-4.55,-0.02],[-4.16,-0.02],[-3.54,-0.01],[-2.76,-0.01],[-1.98,-0.01],[-1.2,0],[-0.68,0],[-0.54,-0.02],[-0.43,0],[-0.23,-0.04],[-0.12,0],[1.5,0],[1.83,-0.03],[1.92,-0.1],[2.0,-1.2],[2.33,-1.2],[2.37,-0.46],[2.45,-0.38],[2.56,-0.15],[2.68,-0.13],[2.88,-0.24],[3.03,-0.09],[3.23,-0.16],[3.42,-0.07],[3.61,-0.05],[3.81,-0.03],[4,-0.02]];
const PCo_dxz_up=[[-8,0],[-6.3,0],[-6.21,0.01],[-5.94,0.08],[-5.79,0.04],[-5.63,0.03],[-5.48,0.05],[-5.24,0.03],[-5.09,0.05],[-4.78,0.04],[-4.55,0.07],[-4.31,0.06],[-4.12,0.07],[-3.85,0.05],[-3.69,0.06],[-3.54,0.05],[-3.34,0.12],[-3.22,0.05],[-2.99,0.05],[-2.84,0.12],[-2.7,0.24],[-2.6,0.17],[-2.45,0.09],[-2.29,0.09],[-2.06,0.05],[-1.83,0.05],[-1.59,0.22],[-1.44,0.13],[-1.2,0.01],[-0.89,0],[-0.83,1.2],[-0.6,1.2],[-0.55,0],[1.5,0],[4,0.01]];
const PCo_dxz_dn=[[-8,0],[-6.3,0],[-6.22,-0.01],[-5.94,-0.03],[-5.63,-0.04],[-5.32,-0.03],[-5.09,-0.02],[-4.86,-0.03],[-4.62,-0.04],[-4.31,-0.04],[-3.92,-0.05],[-3.54,-0.06],[-3.15,-0.05],[-2.84,-0.08],[-2.7,-0.15],[-2.53,-0.07],[-2.29,-0.07],[-2.14,-0.05],[-1.98,-0.09],[-1.67,-0.11],[-1.52,-0.1],[-1.36,-0.05],[-1.17,0],[-0.43,0],[-0.39,-1.2],[-0.14,-1.2],[-0.1,0],[1.5,0],[4,-0.01]];
const PCo_dx2y2_up=[[-8,0],[-6.1,0],[-5.94,0.14],[-5.79,0.11],[-5.59,0.17],[-5.48,0.06],[-5.28,0.1],[-5.17,0.07],[-5.02,0.14],[-4.93,0.06],[-4.78,0.07],[-4.58,0.17],[-4.47,0.05],[-4.31,0.07],[-4.16,0.06],[-3.96,0.07],[-3.85,0.12],[-3.69,0.28],[-3.54,0.1],[-3.34,0.08],[-3.22,0.1],[-3.07,0.08],[-2.91,0.09],[-2.76,0.06],[-2.6,0.02],[-2.29,0.02],[-1.98,0.01],[-1.5,0],[1.85,0],[1.9,1.2],[2.22,1.2],[2.29,0.14],[2.45,0.03],[2.6,0.03],[2.76,0.13],[2.92,0.07],[3.15,0.06],[3.3,0.1],[3.42,0.07],[3.55,0.23],[3.65,0.16],[3.81,0.15],[4,0.09]];
const PCo_dx2y2_dn=[[-8,0],[-6.1,0],[-5.94,-0.09],[-5.79,-0.06],[-5.59,-0.13],[-5.48,-0.05],[-5.28,-0.09],[-5.17,-0.07],[-5.02,-0.14],[-4.93,-0.06],[-4.78,-0.09],[-4.62,-0.11],[-4.47,-0.1],[-4.31,-0.05],[-4.16,-0.06],[-3.96,-0.07],[-3.85,-0.12],[-3.69,-0.22],[-3.54,-0.19],[-3.38,-0.09],[-3.22,-0.07],[-3.07,-0.11],[-2.91,-0.1],[-2.76,-0.07],[-2.45,-0.03],[-1.98,-0.01],[-1.5,0],[2.0,-0.01],[2.1,-0.03],[2.16,-1.2],[2.26,-1.2],[2.29,-0.18],[2.53,-0.13],[2.6,-0.11],[2.76,-0.17],[2.92,-0.32],[2.99,-0.33],[3.15,-0.13],[3.3,-0.15],[3.46,-0.23],[3.54,-0.17],[3.65,-0.42],[3.81,-0.19],[3.92,-0.31],[4,-0.18]];

// ---------------- (b) P_Ni ----------------
const PNi_dxy_up=[[-8,0],[-5.85,0],[-5.71,0.02],[-5.59,0.2],[-5.54,1.2],[-5.45,1.2],[-5.38,0.06],[-5.28,0.12],[-5.17,0.08],[-5.01,0.06],[-4.78,0.08],[-4.62,0.06],[-4.39,0.2],[-4.27,0.12],[-4.16,0.31],[-3.96,0.19],[-3.77,0.08],[-3.61,0.08],[-3.46,0.08],[-3.22,0.12],[-3.07,0.09],[-2.84,0.14],[-2.68,0.21],[-2.53,0.17],[-2.37,0.08],[-2.21,0.22],[-2.02,0.44],[-1.83,0.43],[-1.67,0.2],[-1.48,0.37],[-1.36,0.22],[-1.24,0.35],[-1.13,0.15],[-0.93,0.12],[-0.74,0.19],[-0.58,0.46],[-0.51,0.24],[-0.35,0.01],[-0.12,0],[4,0]];
const PNi_dxy_dn=[[-8,0],[-5.85,0],[-5.71,-0.02],[-5.59,-0.26],[-5.54,-1.2],[-5.45,-1.2],[-5.38,-0.1],[-5.28,-0.09],[-5.17,-0.06],[-5.01,-0.1],[-4.78,-0.08],[-4.62,-0.04],[-4.39,-0.26],[-4.27,-0.13],[-4.16,-0.31],[-3.96,-0.16],[-3.77,-0.07],[-3.61,-0.08],[-3.46,-0.08],[-3.22,-0.15],[-3.07,-0.13],[-2.84,-0.12],[-2.68,-0.22],[-2.53,-0.17],[-2.37,-0.13],[-2.21,-0.25],[-2.02,-0.44],[-1.83,-0.42],[-1.67,-0.22],[-1.48,-0.37],[-1.36,-0.21],[-1.24,-0.35],[-1.13,-0.17],[-0.93,-0.12],[-0.74,-0.2],[-0.58,-0.47],[-0.51,-0.24],[-0.35,-0.01],[-0.12,0],[4,0]];
const PNi_dz2_up=[[-8,0.01],[-7.8,0.01],[-7.55,0.01],[-7.4,0],[-5.55,0],[-5.4,0.04],[-5.24,0.03],[-5.09,0.02],[-4.93,0.05],[-4.78,0.04],[-4.62,0.05],[-4.39,0.42],[-4.27,0.16],[-4.16,0.01],[-3.96,0.05],[-3.77,0.06],[-3.53,0.05],[-3.38,0.07],[-3.22,0.04],[-3.07,0.06],[-2.91,0.06],[-2.76,0.05],[-2.6,0.06],[-2.45,0.07],[-2.21,0.12],[-2.02,0.23],[-1.75,0.12],[-1.48,0.23],[-1.36,0.21],[-1.2,0.1],[-1.05,0.06],[-0.82,0.22],[-0.66,0.15],[-0.51,0.04],[-0.43,1.2],[-0.19,1.2],[-0.12,0],[4,0]];
const PNi_dz2_dn=[[-8,0],[-5.55,0],[-5.4,-0.04],[-5.24,-0.03],[-5.09,-0.02],[-4.93,-0.05],[-4.78,-0.04],[-4.62,-0.06],[-4.39,-0.43],[-4.27,-0.15],[-4.16,-0.01],[-3.96,-0.05],[-3.77,-0.06],[-3.53,-0.05],[-3.38,-0.07],[-3.22,-0.04],[-3.07,-0.06],[-2.91,-0.05],[-2.76,-0.04],[-2.6,-0.05],[-2.45,-0.07],[-2.21,-0.12],[-2.02,-0.23],[-1.75,-0.12],[-1.48,-0.23],[-1.36,-0.21],[-1.2,-0.1],[-1.05,-0.06],[-0.82,-0.22],[-0.66,-0.15],[-0.51,-0.04],[-0.43,-1.2],[-0.19,-1.2],[-0.12,0],[4,0]];
const PNi_dxz_up=[[-8,0],[-5.4,0],[-5.24,0.08],[-5.17,0.12],[-5.01,0.08],[-4.86,0.08],[-4.74,0.04],[-4.62,0.08],[-4.47,0.1],[-4.35,0.03],[-4.23,0.08],[-4.12,0.06],[-3.96,0.05],[-3.77,0.04],[-3.57,0.12],[-3.42,0.08],[-3.22,0.08],[-3.07,0.08],[-2.91,0.14],[-2.76,0.1],[-2.64,0.23],[-2.49,0.11],[-2.37,0.1],[-2.21,0.19],[-2.04,0.52],[-1.9,0.27],[-1.67,0.13],[-1.44,0.14],[-1.36,0.17],[-1.2,0.18],[-1.09,0.22],[-1.0,1.2],[-0.86,1.2],[-0.78,0.36],[-0.66,0.26],[-0.54,0.33],[-0.47,0.19],[-0.3,1.2],[-0.14,1.2],[-0.1,0],[4,0]];
const PNi_dxz_dn=[[-8,0],[-5.4,0],[-5.24,-0.08],[-5.17,-0.11],[-5.01,-0.08],[-4.86,-0.08],[-4.74,-0.04],[-4.62,-0.08],[-4.47,-0.1],[-4.35,-0.03],[-4.23,-0.08],[-4.12,-0.06],[-3.96,-0.05],[-3.77,-0.04],[-3.57,-0.12],[-3.42,-0.08],[-3.22,-0.08],[-3.07,-0.08],[-2.91,-0.14],[-2.76,-0.1],[-2.64,-0.26],[-2.49,-0.12],[-2.37,-0.1],[-2.21,-0.19],[-2.04,-0.52],[-1.9,-0.27],[-1.67,-0.12],[-1.44,-0.15],[-1.36,-0.16],[-1.2,-0.17],[-1.09,-0.2],[-1.0,-1.2],[-0.86,-1.2],[-0.78,-0.36],[-0.66,-0.26],[-0.54,-0.32],[-0.47,-0.21],[-0.3,-1.2],[-0.14,-1.2],[-0.1,0],[4,0]];
const PNi_dx2y2_up=[[-8,0],[-5.55,0],[-5.44,0.03],[-5.24,0.08],[-5.09,0.15],[-4.93,0.12],[-4.78,0.13],[-4.62,0.08],[-4.47,0.08],[-4.31,0.16],[-4.16,0.07],[-4.0,0.08],[-3.85,0.15],[-3.69,0.08],[-3.53,0.08],[-3.38,0.07],[-3.22,0.09],[-3.07,0.12],[-2.91,0.23],[-2.76,0.2],[-2.6,0.11],[-2.45,0.12],[-2.29,0.1],[-2.14,0.08],[-1.98,0.05],[-1.83,0.04],[-1.59,0.03],[-1.44,0.01],[-1.2,0.01],[-0.8,0],[2.48,0],[2.53,1.2],[2.84,1.2],[2.89,0],[3.07,0.06],[3.22,0.02],[3.42,0.08],[3.61,0.07],[3.81,0.03],[3.92,0.07],[4,0.05]];
const PNi_dx2y2_dn=[[-8,0],[-5.55,0],[-5.44,-0.03],[-5.24,-0.08],[-5.09,-0.15],[-4.93,-0.12],[-4.78,-0.12],[-4.62,-0.08],[-4.47,-0.08],[-4.31,-0.16],[-4.16,-0.08],[-4.0,-0.08],[-3.85,-0.15],[-3.69,-0.08],[-3.53,-0.08],[-3.38,-0.07],[-3.22,-0.09],[-3.07,-0.12],[-2.91,-0.23],[-2.76,-0.2],[-2.6,-0.11],[-2.45,-0.12],[-2.29,-0.1],[-2.14,-0.08],[-1.98,-0.05],[-1.59,-0.03],[-1.2,-0.01],[-0.8,0],[2.48,0],[2.53,-1.2],[2.84,-1.2],[2.89,0],[3.07,-0.05],[3.22,-0.02],[3.42,-0.08],[3.61,-0.07],[3.81,-0.03],[3.92,-0.07],[4,-0.05]];

// ---------------- (b) P_Cu0 ----------------
const PCu_dxy_up=[[-8,0],[-6.4,0],[-6.33,0.03],[-6.22,0.13],[-6.1,0.04],[-5.94,0.09],[-5.79,0.05],[-5.59,0.05],[-5.48,0.03],[-5.32,0.06],[-5.17,0.07],[-5.01,0.06],[-4.78,0.08],[-4.61,0.27],[-4.47,0.14],[-4.31,0.04],[-4.08,0.07],[-3.92,0.15],[-3.69,0.04],[-3.54,0.22],[-3.42,0.1],[-3.34,0.2],[-3.22,0.11],[-3.07,0.02],[-2.91,0.16],[-2.76,0.32],[-2.68,0.38],[-2.6,1.2],[-2.5,0.5],[-2.45,0.35],[-2.33,0.4],[-2.21,0.55],[-2.06,1.2],[-1.94,1.2],[-1.83,0.33],[-1.71,0.27],[-1.59,0.2],[-1.48,0.27],[-1.36,0.54],[-1.24,0.23],[-1.13,0.04],[-1.05,0],[4,0]];
const PCu_dxy_dn=[[-8,0],[-6.4,0],[-6.33,-0.02],[-6.17,-0.12],[-6.06,-0.05],[-5.94,-0.07],[-5.71,-0.04],[-5.48,-0.03],[-5.24,-0.02],[-5.01,-0.02],[-4.78,-0.06],[-4.61,-0.25],[-4.47,-0.09],[-4.31,-0.09],[-4.08,-0.06],[-3.92,-0.05],[-3.69,-0.05],[-3.54,-0.2],[-3.42,-0.12],[-3.34,-0.12],[-3.22,-0.08],[-3.07,-0.02],[-2.84,-0.12],[-2.68,-0.13],[-2.6,-0.24],[-2.45,-0.37],[-2.29,-0.33],[-2.14,-0.28],[-1.98,-1.2],[-1.87,-1.2],[-1.79,-0.5],[-1.67,-0.41],[-1.52,-0.17],[-1.36,-0.13],[-1.2,-0.04],[-1.1,-0.01],[-1.05,0],[4,0]];
const PCu_dz2_up=[[-8,0],[-6.4,0],[-6.25,0.02],[-5.94,0],[-5.71,0.02],[-5.56,0],[-5.4,0.05],[-5.24,0.1],[-5.09,0.24],[-4.97,0.02],[-4.78,0.04],[-4.62,0.06],[-4.39,0.08],[-4.16,0.04],[-3.92,0.04],[-3.77,0.05],[-3.54,0.06],[-3.38,0.13],[-3.22,0.06],[-3.11,0.31],[-3.03,0.32],[-2.84,0.57],[-2.76,0.17],[-2.64,0.12],[-2.49,0.21],[-2.37,0.18],[-2.25,0.18],[-2.1,0.31],[-1.98,0.08],[-1.87,0.16],[-1.75,0.32],[-1.63,0.27],[-1.52,0.23],[-1.4,0.57],[-1.28,0.14],[-1.17,0.04],[-1.09,0],[4,0]];
const PCu_dz2_dn=[[-8,0],[-6.4,0],[-6.25,-0.01],[-5.94,0],[-5.71,-0.01],[-5.4,-0.06],[-5.24,-0.08],[-5.09,-0.18],[-4.97,-0.02],[-4.78,-0.06],[-4.55,-0.08],[-4.31,-0.06],[-4.0,-0.05],[-3.69,-0.05],[-3.54,-0.08],[-3.22,-0.1],[-3.07,-0.24],[-2.84,-0.48],[-2.76,-0.25],[-2.6,-0.14],[-2.45,-0.14],[-2.29,-0.16],[-2.1,-0.18],[-1.98,-0.19],[-1.75,-0.24],[-1.59,-0.42],[-1.44,-0.36],[-1.36,-1.2],[-1.25,-1.2],[-1.17,-0.01],[-1.09,0],[4,0]];
const PCu_dxz_up=[[-8,0],[-6.3,0],[-6.22,0.03],[-5.98,0.08],[-5.87,0.04],[-5.59,0.05],[-5.4,0.03],[-5.17,0.02],[-4.93,0.03],[-4.78,0.04],[-4.62,0.07],[-4.5,0.08],[-4.31,0.05],[-4.16,0.04],[-3.96,0.05],[-3.77,0.08],[-3.57,0.15],[-3.42,0.14],[-3.22,0.12],[-3.07,0.04],[-2.91,0.35],[-2.84,0.32],[-2.72,1.2],[-2.6,0.39],[-2.45,0.21],[-2.29,0.17],[-2.1,0.33],[-1.98,0.4],[-1.87,0.52],[-1.71,0.35],[-1.52,0.23],[-1.36,0.35],[-1.28,1.2],[-1.2,1.2],[-1.17,0.26],[-1.0,0],[4,0]];
const PCu_dxz_dn=[[-8,0],[-6.3,0],[-6.22,-0.02],[-5.94,-0.06],[-5.59,-0.06],[-5.24,-0.05],[-4.93,-0.04],[-4.62,-0.05],[-4.47,-0.06],[-4.16,-0.05],[-3.85,-0.04],[-3.54,-0.06],[-3.22,-0.09],[-3.07,-0.11],[-2.91,-0.25],[-2.76,-0.32],[-2.6,-0.45],[-2.45,-0.24],[-2.29,-0.21],[-2.1,-0.14],[-1.98,-0.19],[-1.75,-0.32],[-1.59,-1.2],[-1.44,-0.47],[-1.36,-0.29],[-1.2,-1.2],[-1.05,-1.2],[-0.98,0],[4,0]];
const PCu_dx2y2_up=[[-8,0],[-6.45,0],[-6.25,0.04],[-6.14,0.25],[-6.06,0.6],[-5.98,0.5],[-5.87,0.18],[-5.75,0.22],[-5.67,0.32],[-5.56,0.08],[-5.4,0.22],[-5.28,0.28],[-5.17,0.25],[-5.05,0],[-4.93,0.14],[-4.8,0.43],[-4.66,0.08],[-4.55,0.12],[-4.39,0.04],[-4.2,0.19],[-4.08,0.1],[-3.92,0.25],[-3.81,0.12],[-3.69,0.03],[-3.54,0.07],[-3.38,0.06],[-3.3,0.01],[-3.15,0.01],[-3.03,0.08],[-2.84,0.04],[-2.68,0.03],[-2.45,0.03],[-2.29,0.02],[-1.98,0.01],[-1.59,0.01],[-1.36,0.02],[-1.2,0.01],[-0.8,0],[-0.42,0],[-0.31,0.27],[-0.27,1.2],[-0.1,1.2],[-0.04,0],[1.5,0],[2.6,0.01],[2.92,0.01],[3.15,0],[3.38,0.01],[3.61,0.01],[3.92,0.01],[4,0.01]];
const PCu_dx2y2_dn=[[-8,0],[-6.45,0],[-6.25,-0.06],[-6.02,-0.1],[-5.87,-0.22],[-5.75,-0.11],[-5.67,-0.09],[-5.56,-0.29],[-5.44,-0.18],[-5.28,-0.16],[-5.17,-0.27],[-5.05,0],[-4.93,-0.19],[-4.8,-0.13],[-4.7,-0.35],[-4.55,-0.08],[-4.39,-0.13],[-4.24,-0.1],[-4.08,-0.16],[-3.92,-0.16],[-3.77,-0.27],[-3.69,-0.26],[-3.54,-0.22],[-3.38,-0.05],[-3.22,-0.02],[-3.07,-0.06],[-2.91,-0.04],[-2.76,-0.02],[-2.45,-0.02],[-1.98,-0.01],[-1.2,-0.01],[-0.8,0],[0.3,0],[0.35,-1.2],[0.66,-1.2],[0.71,0],[2.6,-0.01],[3.0,-0.02],[3.3,-0.01],[3.61,-0.02],[4,-0.01]];

// ---------------- (b) P_Cu-1 ----------------
const PCum_dxy_up=[[-8,0],[-7.63,0.01],[-7.26,0],[-6.5,0],[-5.88,0.01],[-5.42,0.02],[-5.0,0.01],[-4.77,0.04],[-4.5,0.01],[-4.21,0.02],[-4.03,0.01],[-3.84,0.02],[-3.47,0.01],[-3.01,0.01],[-2.83,0],[-2.5,0],[-1.4,0],[-1.33,1.2],[-1.03,1.2],[-0.98,0],[4,0]];
const PCum_dxy_dn=[[-8,0],[-7.63,-0.01],[-7.26,0],[-6.5,0],[-5.88,-0.01],[-5.42,-0.02],[-5.0,-0.01],[-4.77,-0.04],[-4.5,-0.01],[-4.21,-0.02],[-4.03,-0.01],[-3.84,-0.02],[-3.47,-0.01],[-3.01,-0.01],[-2.83,0],[-2.5,0],[-1.4,0],[-1.33,-1.2],[-1.03,-1.2],[-0.98,0],[4,0]];
const PCum_dz2_up=[[-8,0],[-7.63,0.005],[-6.52,0],[-6.25,0.075],[-6.11,0],[-5.93,0.035],[-5.69,0.02],[-5.42,0.01],[-5.0,0.01],[-4.41,0.05],[-4.21,0.07],[-4.03,0.035],[-3.84,0.02],[-3.66,0.01],[-3.29,0.02],[-3.01,0.06],[-2.87,0.09],[-2.73,0.035],[-2.55,0.005],[-2.4,0],[-1.6,0],[-1.55,0.05],[-1.49,1.2],[-1.24,1.2],[-1.19,0],[0.96,0.01],[1.33,0.01],[1.7,0.01],[2.11,0.02],[2.62,0.01],[2.99,0.02],[3.36,0.02],[3.73,0.02],[4,0.02]];
const PCum_dz2_dn=[[-8,0],[-7.63,-0.005],[-6.52,0],[-6.25,-0.075],[-6.11,0],[-5.93,-0.035],[-5.69,-0.02],[-5.42,-0.01],[-5.0,-0.01],[-4.41,-0.05],[-4.21,-0.07],[-4.03,-0.035],[-3.84,-0.02],[-3.66,-0.01],[-3.29,-0.02],[-3.01,-0.06],[-2.87,-0.09],[-2.73,-0.035],[-2.55,-0.005],[-2.4,0],[-1.6,0],[-1.55,-0.05],[-1.49,-1.2],[-1.24,-1.2],[-1.19,0],[0.96,-0.01],[1.33,-0.01],[1.7,-0.01],[2.11,-0.02],[2.62,-0.01],[2.99,-0.02],[3.36,-0.02],[3.73,-0.02],[4,-0.02]];
const PCum_dxz_up=[[-8,0],[-7.63,0.01],[-7.26,0.02],[-6.89,0.01],[-6.52,0.01],[-6.25,0.02],[-5.9,0],[-5.5,0.02],[-5.14,0.01],[-4.86,0.03],[-4.5,0.01],[-4.21,0.05],[-3.84,0.06],[-3.66,0.02],[-3.29,0.01],[-3.01,0.035],[-2.83,0.065],[-2.64,0.035],[-2.46,0.005],[-2.3,0],[-1.5,0],[-1.44,1.2],[-1.15,1.2],[-1.1,0],[0.96,0],[1.33,0.01],[1.7,0.02],[2.11,0.02],[2.62,0.01],[2.99,0.02],[3.36,0.01],[3.73,0.01],[4,0.01]];
const PCum_dxz_dn=[[-8,0],[-7.63,-0.01],[-7.26,-0.02],[-6.89,-0.01],[-6.52,-0.01],[-6.25,-0.02],[-5.9,0],[-5.5,-0.02],[-5.14,-0.01],[-4.86,-0.03],[-4.5,-0.01],[-4.21,-0.05],[-3.84,-0.06],[-3.66,-0.02],[-3.29,-0.01],[-3.01,-0.035],[-2.83,-0.065],[-2.64,-0.035],[-2.46,-0.005],[-2.3,0],[-1.5,0],[-1.44,-1.2],[-1.15,-1.2],[-1.1,0],[0.96,0],[1.33,-0.01],[1.7,-0.02],[2.11,-0.02],[2.62,-0.01],[2.99,-0.02],[3.36,-0.01],[3.73,-0.01],[4,-0.01]];
const PCum_dx2y2_up=[[-8,0],[-7.63,0.01],[-7.26,0.01],[-6.89,0.05],[-6.75,0],[-6.52,0.06],[-6.25,0.01],[-6.02,0.075],[-5.88,0.01],[-5.6,0.02],[-5.32,0.01],[-5.0,0.08],[-4.86,0.06],[-4.68,0.1],[-4.54,0.16],[-4.41,0.035],[-4.21,0.18],[-4.03,0.23],[-3.89,0.14],[-3.8,0.2],[-3.66,0.1],[-3.47,0.05],[-3.29,0.02],[-3.01,0.01],[-2.55,0],[-0.2,0],[-0.15,1.2],[0.1,1.2],[0.13,0.08],[0.22,0],[0.96,0],[1.33,0.01],[1.7,0.05],[1.88,0.02],[2.11,0.07],[2.35,0.02],[2.62,0.01],[2.99,0.02],[3.18,0.04],[3.36,0],[3.73,0.01],[4,0.01]];
const PCum_dx2y2_dn=[[-8,0],[-7.63,-0.01],[-7.26,-0.01],[-6.89,-0.05],[-6.75,0],[-6.52,-0.06],[-6.25,-0.01],[-6.02,-0.075],[-5.88,-0.01],[-5.6,-0.02],[-5.32,-0.01],[-5.0,-0.08],[-4.86,-0.06],[-4.68,-0.1],[-4.54,-0.16],[-4.41,-0.035],[-4.21,-0.18],[-4.03,-0.23],[-3.89,-0.14],[-3.8,-0.2],[-3.66,-0.1],[-3.47,-0.05],[-3.29,-0.02],[-3.01,-0.01],[-2.55,0],[-0.2,0],[-0.15,-1.2],[0.1,-1.2],[0.13,-0.08],[0.22,0],[0.96,0],[1.33,-0.01],[1.7,-0.05],[1.88,-0.02],[2.11,-0.07],[2.35,-0.02],[2.62,-0.01],[2.99,-0.02],[3.18,-0.04],[3.36,0],[3.73,-0.01],[4,-0.01]];

// ================= rendering =================
const W = 3991;
const FONT = "'Liberation Serif','Times New Roman',serif";
const TICKFONT = {family: FONT, size: 56, weight: 'bold'};
const LINE_W = 5.5;
const COLS = [
  {left: 276, right: 1731, tops: [38, 434, 829, 1225, 1620], bottom: 2016},
  {left: 2183, right: 3641, tops: [41, 437, 834, 1230, 1627], bottom: 2023}
];
const VCL_UP_COLOR = '#ff2222', VCL_DN_COLOR = '#1e7bbd';

const frameTicks = {
  id: 'frameTicks',
  afterDatasetsDraw(chart, args, o) {
    const {ctx, chartArea: a, scales: {x, y}} = chart;
    ctx.save();
    ctx.strokeStyle = '#000';
    ctx.lineCap = 'butt';
    ctx.lineWidth = 5.5;
    const seg = (x1, y1, x2, y2) => { ctx.beginPath(); ctx.moveTo(x1, y1); ctx.lineTo(x2, y2); ctx.stroke(); };
    o.xMajor.forEach(v => { const p = x.getPixelForValue(v); seg(p, a.bottom, p, a.bottom - 27); });
    o.xMinor.forEach(v => { const p = x.getPixelForValue(v); seg(p, a.bottom, p, a.bottom - 13); });
    o.yMajor.forEach(v => { const p = y.getPixelForValue(v); seg(a.left, p, a.left + 27, p); });
    o.yMinor.forEach(v => { const p = y.getPixelForValue(v); seg(a.left, p, a.left + 13, p); });
    ctx.lineWidth = 6.5;
    ctx.strokeRect(a.left, a.top, a.right - a.left, a.bottom - a.top);
    ctx.restore();
  }
};

function ds(arr, color, order, width) {
  return {data: arr.map(p => ({x: p[0], y: p[1]})), borderColor: color, borderWidth: width || LINE_W,
    pointRadius: 0, tension: 0, fill: false, order: order, borderJoinStyle: 'round', borderCapStyle: 'round'};
}
function orbitalDatasets(S) {
  // S = [dxy_up, dxy_dn, dz2_up, dz2_dn, dxz_up, dxz_dn, dx2y2_up, dx2y2_dn]; dyz is degenerate with dxz (drawn beneath it)
  return [
    ds(S[0], orbitalColors[0], 5), ds(S[1], orbitalColors[0], 5),
    ds(S[4], orbitalColors[1], 4), ds(S[5], orbitalColors[1], 4),
    ds(S[2], orbitalColors[2], 3), ds(S[3], orbitalColors[2], 3),
    ds(S[4], orbitalColors[3], 2), ds(S[5], orbitalColors[3], 2),
    ds(S[6], orbitalColors[4], 1), ds(S[7], orbitalColors[4], 1)
  ];
}

function makePanel(col, row, datasets, yCfg, showX) {
  const g = COLS[col];
  const top = g.tops[row];
  const bottom = row < 4 ? g.tops[row + 1] : g.bottom;
  const h = bottom - top;
  const axW = 200, padT = 10, padR = 12, padB = showX ? 0 : 10, xH = showX ? 100 : 0;
  const cv = document.createElement('canvas');
  const cw = (g.right - g.left) + axW + padR;
  const ch = padT + h + padB + xH;
  cv.width = cw; cv.height = ch;
  cv.style.left = (g.left - axW) + 'px';
  cv.style.top = (top - padT) + 'px';
  cv.style.width = cw + 'px'; cv.style.height = ch + 'px';
  document.body.appendChild(cv);
  new Chart(cv.getContext('2d'), {
    type: 'line',
    data: {datasets},
    options: {
      responsive: false, animation: false, devicePixelRatio: 1, events: [],
      layout: {padding: {left: 0, right: padR, top: padT, bottom: padB}},
      plugins: {legend: {display: false}, tooltip: {enabled: false},
        frameTicks: {xMajor: energyTicks, xMinor: energyMinor, yMajor: yCfg.major, yMinor: yCfg.minor}},
      scales: {
        x: {type: 'linear', min: -8, max: 4, display: showX,
          grid: {display: false, drawTicks: false}, border: {display: false},
          afterBuildTicks: a => { a.ticks = energyTicks.map(v => ({value: v})); },
          ticks: {callback: (v, i) => energyTickLabels[i], padding: 10, font: TICKFONT, color: '#000', maxRotation: 0, autoSkip: false},
          afterFit: s => { s.height = xH; s.paddingLeft = 0; s.paddingRight = 0; }},
        y: {type: 'linear', min: yCfg.min, max: yCfg.max,
          grid: {display: false, drawTicks: false}, border: {display: false},
          afterBuildTicks: a => { a.ticks = yCfg.ticks.map(v => ({value: v})); },
          ticks: {display: yCfg.labels !== null, callback: (v, i) => (yCfg.labels ? yCfg.labels[i] : ''), padding: 30, font: TICKFONT, color: '#000', autoSkip: false},
          afterFit: s => { s.width = axW; s.paddingTop = 0; s.paddingBottom = 0; }}
      }
    },
    plugins: [frameTicks]
  });
  return {top, right: g.right};
}

const pdosY = {min: -0.6, max: 0.6, ticks: pdosTicks, labels: pdosTickLabels, major: pdosTicks, minor: pdosMinor};
const vclY = {min: -1, max: 1, ticks: vclTicks, labels: null, major: vclTicks, minor: vclMinor};

const colA = [
  [BiFe_dxy_up, BiFe_dxy_dn, BiFe_dz2_up, BiFe_dz2_dn, BiFe_dxz_up, BiFe_dxz_dn, BiFe_dx2y2_up, BiFe_dx2y2_dn],
  [BiCo_dxy_up, BiCo_dxy_dn, BiCo_dz2_up, BiCo_dz2_dn, BiCo_dxz_up, BiCo_dxz_dn, BiCo_dx2y2_up, BiCo_dx2y2_dn],
  [BiNi_dxy_up, BiNi_dxy_dn, BiNi_dz2_up, BiNi_dz2_dn, BiNi_dxz_up, BiNi_dxz_dn, BiNi_dx2y2_up, BiNi_dx2y2_dn],
  [BiCu_dxy_up, BiCu_dxy_dn, BiCu_dz2_up, BiCu_dz2_dn, BiCu_dxz_up, BiCu_dxz_dn, BiCu_dx2y2_up, BiCu_dx2y2_dn]
];
const colB = [
  [PFe_dxy_up, PFe_dxy_dn, PFe_dz2_up, PFe_dz2_dn, PFe_dxz_up, PFe_dxz_dn, PFe_dx2y2_up, PFe_dx2y2_dn],
  [PCo_dxy_up, PCo_dxy_dn, PCo_dz2_up, PCo_dz2_dn, PCo_dxz_up, PCo_dxz_dn, PCo_dx2y2_up, PCo_dx2y2_dn],
  [PNi_dxy_up, PNi_dxy_dn, PNi_dz2_up, PNi_dz2_dn, PNi_dxz_up, PNi_dxz_dn, PNi_dx2y2_up, PNi_dx2y2_dn],
  [PCu_dxy_up, PCu_dxy_dn, PCu_dz2_up, PCu_dz2_dn, PCu_dxz_up, PCu_dxz_dn, PCu_dx2y2_up, PCu_dx2y2_dn],
  [PCum_dxy_up, PCum_dxy_dn, PCum_dz2_up, PCum_dz2_dn, PCum_dxz_up, PCum_dxz_dn, PCum_dx2y2_up, PCum_dx2y2_dn]
];

function txt(html, css) {
  const d = document.createElement('div');
  d.className = 't';
  d.innerHTML = html;
  d.style.cssText += css;
  document.body.appendChild(d);
  return d;
}
function panelLabel(rightX, baseY, t) {
  const F = 86;
  txt(`<span>${t[0]}</span><span style="font-size:54px;position:relative;top:28px;">${t[1]}</span><span style="font-size:46px;position:relative;top:2px;font-style:normal;">${t[2]}</span>`,
    `right:${W - rightX}px;top:${baseY - 0.8375 * F}px;font-size:${F}px;line-height:${F}px;font-style:italic;font-weight:bold;font-family:${FONT};`);
}

function render() {
  colA.forEach((S, r) => {
    const p = makePanel(0, r, orbitalDatasets(S), pdosY, false);
    panelLabel(p.right - 13, p.top + 86, panelTitlesA[r]);
  });
  {
    const p = makePanel(0, 4, [ds(VCl_dn, VCL_DN_COLOR, 1, 6), ds(VCl_up, VCL_UP_COLOR, 2, 6)], vclY, true);
    panelLabel(p.right - 9, p.top + 89, panelTitlesA[4]);
  }
  colB.forEach((S, r) => {
    const p = makePanel(1, r, orbitalDatasets(S), pdosY, r === 4);
    panelLabel(p.right - 4, p.top + 86, panelTitlesB[r]);
  });

  const TF = 77;
  txt('Energy(eV)', `left:1014px;top:${2158 - 0.8375 * TF}px;transform:translateX(-50%);font-size:${TF}px;line-height:${TF}px;font-weight:bold;`);
  txt('Energy(eV)', `left:3124px;top:${2162 - 0.8375 * TF}px;transform:translateX(-50%);font-size:${TF}px;line-height:${TF}px;font-weight:bold;`);
  txt('PDOS(states/eV/cell)', `left:102px;top:1205px;transform:translate(-50%,-50%) rotate(-90deg);font-size:${TF}px;line-height:${TF}px;font-weight:bold;`);
  txt('PDOS(states/eV/cell)', `left:2008px;top:1215px;transform:translate(-50%,-50%) rotate(-90deg);font-size:${TF}px;line-height:${TF}px;font-weight:bold;`);
  txt('(a)', `left:25px;top:8px;font-size:100px;line-height:100px;`);
  txt('(b)', `left:1927px;top:8px;font-size:100px;line-height:100px;`);

  const legendY = [64, 138, 221, 295, 378];
  orbitalNames.forEach((name, i) => {
    const y = legendY[i];
    const ln = document.createElement('div');
    ln.style.cssText = `position:absolute;left:3671px;top:${y - 3.5}px;width:123px;height:7px;border-radius:4px;background:${orbitalColors[i]};`;
    document.body.appendChild(ln);
    const LF = 52;
    const d = txt(name, `left:3809px;top:${y + 20 - 0.8375 * LF}px;font-size:${LF}px;line-height:${LF}px;font-weight:bold;`);
    d.querySelectorAll('.su').forEach(s => { s.style.cssText = 'font-size:34px;position:relative;top:-22px;'; });
  });
}

let done = false;
function go() { if (!done) { done = true; render(); } }
if (document.fonts && document.fonts.load) {
  Promise.all([
    document.fonts.load('bold 56px "Liberation Serif"'),
    document.fonts.load('bold italic 86px "Liberation Serif"'),
    document.fonts.load('100px "Liberation Serif"')
  ]).then(go, go);
  setTimeout(go, 1500);
} else { go(); }
</script>
</body></html>
